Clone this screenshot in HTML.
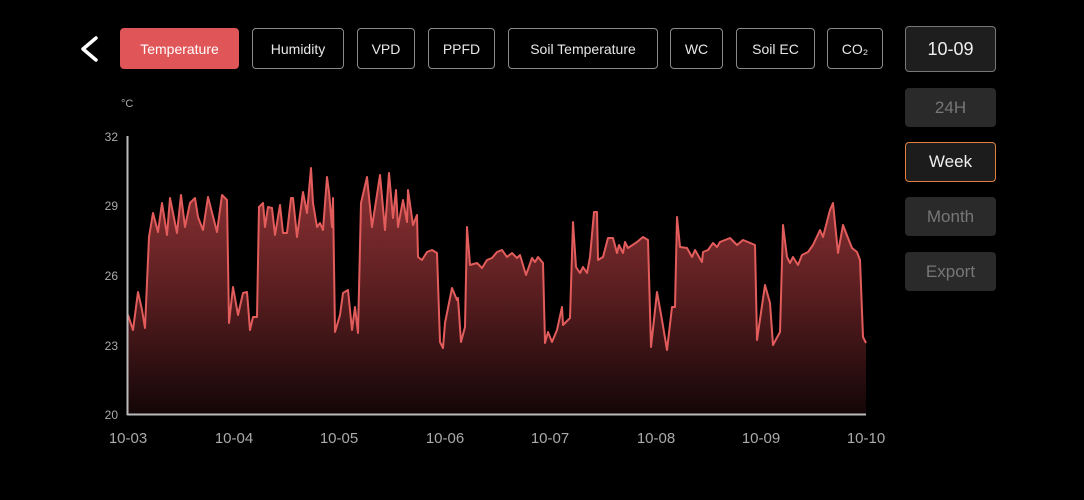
<!DOCTYPE html>
<html><head><meta charset="utf-8"><style>
body{margin:0;width:1084px;height:500px;background:#000;overflow:hidden;font-family:"Liberation Sans",sans-serif;position:relative}
.b{position:absolute;top:28px;height:41px;box-sizing:border-box;border:1.5px solid #8a8a8a;border-radius:4px;color:#e8e8e8;font-size:14px;display:flex;align-items:center;justify-content:center}
.r{position:absolute;left:905px;width:91px;box-sizing:border-box;border-radius:4px;display:flex;align-items:center;justify-content:center;font-size:17px;background:#2a2a2a;color:#777}
</style></head><body>
<svg style="position:absolute;left:0;top:0" width="1084" height="500">
<polyline points="96,38 83,49 96,60" fill="none" stroke="#fff" stroke-width="3.5" stroke-linecap="round" stroke-linejoin="round"/>
<defs><linearGradient id="g" x1="0" x2="0" y1="170" y2="414" gradientUnits="userSpaceOnUse"><stop offset="0" stop-color="#903335"/><stop offset="0.5" stop-color="#5a1e20"/><stop offset="1" stop-color="#140607"/></linearGradient></defs>
<g id="data">
<polygon fill="url(#g)" points="128,414 128,315 133,330 138,292 142,310 145,328 149,237 153,213 158,232 162,203 167,235 170,198 177,233 181,195 185,227 190,203 195,198 198,217 203,230 208,197 217,232 222,195 227,200 229,323 233,287 238,315 243,293 247,292 250,330 253,317 257,317 259,207 263,203 265,227 268,207 272,208 275,235 280,205 283,233 287,233 291,198 293,198 297,237 303,192 307,213 311,168 313,203 317,227 320,223 323,230 327,177 329,192 332,227 333,198 335,332 340,315 343,293 348,290 352,330 355,307 358,333 361,203 367,177 372,227 380,175 385,230 389,173 393,218 396,190 398,227 403,200 407,222 408,190 413,225 417,215 418,257 422,260 427,252 432,250 437,253 440,342 443,348 445,323 452,288 457,300 458,298 461,342 465,327 467,227 470,265 477,263 482,268 487,260 492,258 497,252 502,250 507,257 512,253 517,258 520,255 526,275 532,258 535,262 538,257 543,263 545,343 548,332 552,342 557,330 562,307 563,325 568,320 570,318 573,222 576,267 580,273 583,267 587,273 590,257 594,212 597,212 598,260 603,257 608,238 613,238 617,253 619,245 623,253 625,242 628,248 637,242 643,237 648,240 651,347 657,292 662,320 667,350 672,307 675,307 677,217 680,247 687,248 692,257 695,250 702,262 703,252 708,250 713,243 717,247 720,242 730,238 737,245 743,240 748,242 755,245 757,340 765,285 770,303 773,345 780,332 783,225 787,257 790,263 793,257 798,265 802,255 808,252 813,245 820,230 823,237 830,210 833,203 838,253 843,225 848,238 852,248 857,252 860,260 863,337 866,343 866,414"/>
<polyline fill="none" stroke="#e35c5c" stroke-width="2" stroke-linejoin="round" points="128,315 133,330 138,292 142,310 145,328 149,237 153,213 158,232 162,203 167,235 170,198 177,233 181,195 185,227 190,203 195,198 198,217 203,230 208,197 217,232 222,195 227,200 229,323 233,287 238,315 243,293 247,292 250,330 253,317 257,317 259,207 263,203 265,227 268,207 272,208 275,235 280,205 283,233 287,233 291,198 293,198 297,237 303,192 307,213 311,168 313,203 317,227 320,223 323,230 327,177 329,192 332,227 333,198 335,332 340,315 343,293 348,290 352,330 355,307 358,333 361,203 367,177 372,227 380,175 385,230 389,173 393,218 396,190 398,227 403,200 407,222 408,190 413,225 417,215 418,257 422,260 427,252 432,250 437,253 440,342 443,348 445,323 452,288 457,300 458,298 461,342 465,327 467,227 470,265 477,263 482,268 487,260 492,258 497,252 502,250 507,257 512,253 517,258 520,255 526,275 532,258 535,262 538,257 543,263 545,343 548,332 552,342 557,330 562,307 563,325 568,320 570,318 573,222 576,267 580,273 583,267 587,273 590,257 594,212 597,212 598,260 603,257 608,238 613,238 617,253 619,245 623,253 625,242 628,248 637,242 643,237 648,240 651,347 657,292 662,320 667,350 672,307 675,307 677,217 680,247 687,248 692,257 695,250 702,262 703,252 708,250 713,243 717,247 720,242 730,238 737,245 743,240 748,242 755,245 757,340 765,285 770,303 773,345 780,332 783,225 787,257 790,263 793,257 798,265 802,255 808,252 813,245 820,230 823,237 830,210 833,203 838,253 843,225 848,238 852,248 857,252 860,260 863,337 866,343"/>
</g>
<line x1="127.5" y1="136" x2="127.5" y2="415" stroke="#bbb" stroke-width="2"/>
<line x1="127" y1="414.5" x2="866" y2="414.5" stroke="#bbb" stroke-width="2"/>
<g font-size="12" fill="#aaa" text-anchor="end">
<text x="118" y="141">32</text><text x="118" y="210">29</text><text x="118" y="280">26</text><text x="118" y="350">23</text><text x="118" y="419">20</text>
</g>
<text x="121" y="107" font-size="11" fill="#aaa">°C</text>
<g font-size="15" fill="#aaa" text-anchor="middle">
<text x="128" y="443">10-03</text><text x="234" y="443">10-04</text><text x="339" y="443">10-05</text><text x="445" y="443">10-06</text><text x="550" y="443">10-07</text><text x="656" y="443">10-08</text><text x="761" y="443">10-09</text><text x="866" y="443">10-10</text>
</g>
</svg>
<div class="b" style="left:120px;width:119px;background:#e05557;border-color:#e05557;color:#fff">Temperature</div>
<div class="b" style="left:252px;width:92px">Humidity</div>
<div class="b" style="left:357px;width:58px">VPD</div>
<div class="b" style="left:428px;width:67px">PPFD</div>
<div class="b" style="left:508px;width:150px">Soil Temperature</div>
<div class="b" style="left:670px;width:53px">WC</div>
<div class="b" style="left:736px;width:79px">Soil EC</div>
<div class="b" style="left:827px;width:56px">CO₂</div>
<div class="r" style="top:26px;height:46px;background:#1e1e1e;border:1.5px solid #777;color:#eee;font-size:18px">10-09</div>
<div class="r" style="top:88px;height:39px">24H</div>
<div class="r" style="top:142px;height:40px;background:#1c1c1c;border:1.5px solid #e0803e;color:#eee">Week</div>
<div class="r" style="top:197px;height:39px">Month</div>
<div class="r" style="top:252px;height:39px">Export</div>
</body></html>
